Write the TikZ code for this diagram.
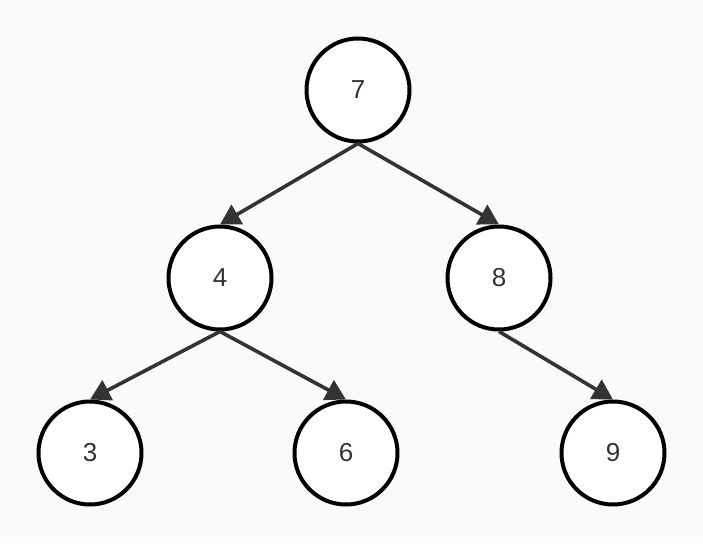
\documentclass[tikz,border=0pt]{standalone}
\usepackage{fontspec}
\setmainfont{Liberation Sans}
\usepackage{xcolor}
\usetikzlibrary{arrows.meta}
\definecolor{bgcol}{HTML}{FAFAFA}
\definecolor{edgecol}{HTML}{333333}
\definecolor{textcol}{HTML}{333333}

\begin{document}
\begin{tikzpicture}[x=1pt, y=-1pt,
  vertex/.style={circle, draw=black, line width=4pt, fill=white,
    minimum size=103pt, inner sep=0pt, text=textcol,
    font=\fontsize{26}{30}\selectfont},
  edge/.style={draw=edgecol, line width=3.6pt,
    -{Triangle[length=20pt, width=22pt]}}]
  \fill[bgcol] (0,0) rectangle (703,543);
  \useasboundingbox (0,0) rectangle (703,543);
  % tree nodes
  \node[vertex] (n7) at (358, 90) {7};
  \node[vertex] (n4) at (220, 278) {4};
  \node[vertex] (n8) at (499, 278) {8};
  \node[vertex] (n3) at (90, 453) {3};
  \node[vertex] (n6) at (346, 453) {6};
  \node[vertex] (n9) at (613, 453) {9};
  % links
  \draw[edge] (n7.south) -- (n4.north);
  \draw[edge] (n7.south) -- (n8.north);
  \draw[edge] (n4.south) -- (n3.north);
  \draw[edge] (n4.south) -- (n6.north);
  \draw[edge] (n8.south) -- (n9.north);
\end{tikzpicture}
\end{document}
